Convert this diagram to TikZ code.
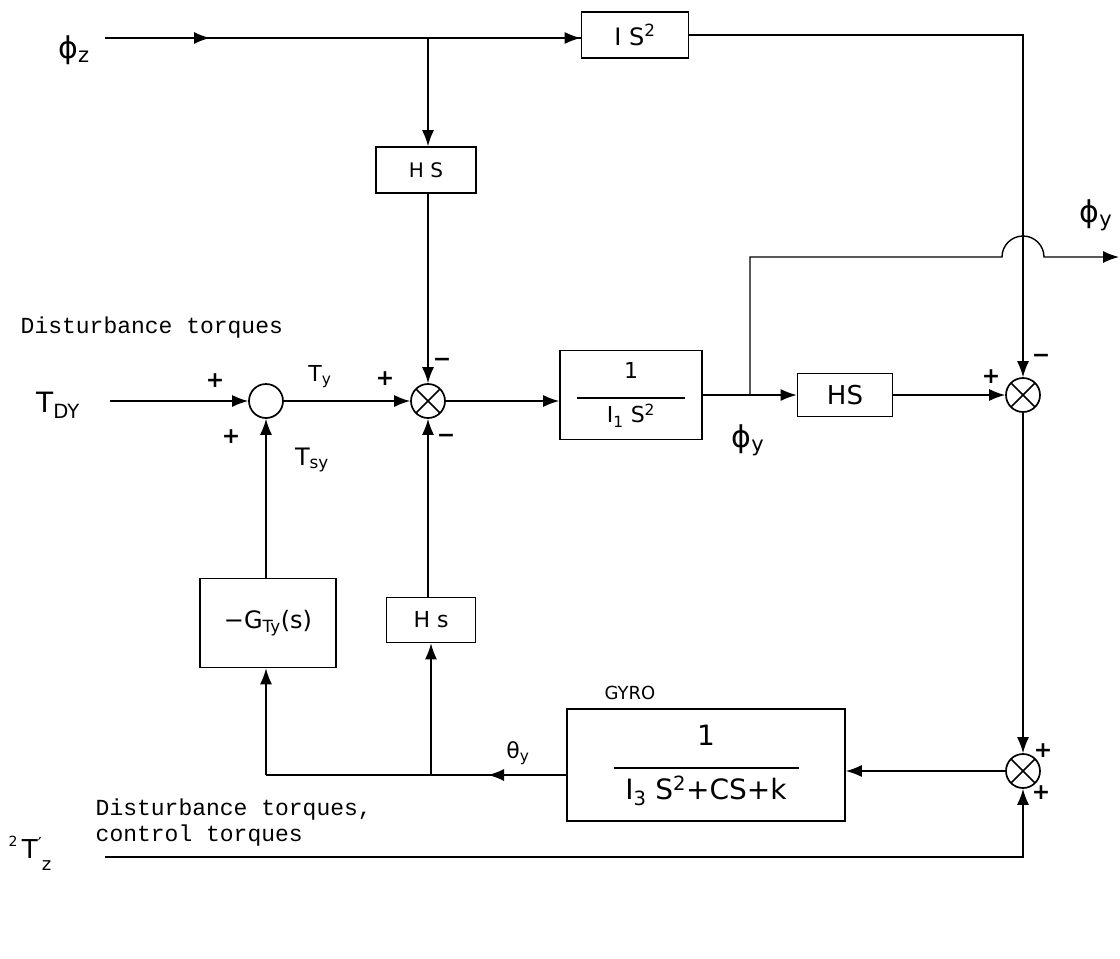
\documentclass[tikz,border=0pt]{standalone}
\usepackage{fontspec}
\setmainfont{DejaVu Sans}
\newfontfamily\typew{Liberation Mono}
\usetikzlibrary{arrows.meta}
\begin{document}
\begin{tikzpicture}[x=1pt,y=-1pt,
  line width=1.4pt,
  >={Latex[length=16pt,width=12pt]},
  blk/.style={draw, line width=1.7pt, inner sep=0pt, align=center, font=\fontsize{22}{26}\selectfont},
  sumc/.style={draw, circle, line width=1.7pt, minimum size=34pt, inner sep=0pt},
  xsum/.style={sumc, path picture={
     \draw[line width=1.5pt] ([shift={(45:17)}]path picture bounding box.center) -- ([shift={(225:17)}]path picture bounding box.center);
     \draw[line width=1.5pt] ([shift={(135:17)}]path picture bounding box.center) -- ([shift={(315:17)}]path picture bounding box.center);}},
  sgn/.style={font=\fontsize{22}{24}\selectfont\bfseries, inner sep=0pt},
  lab/.style={font=\fontsize{26}{30}\selectfont, inner sep=0pt},
  typed/.style={font=\typew\fontsize{23}{26}\selectfont, anchor=west, align=left, inner sep=0pt}
]
\useasboundingbox (0,0) rectangle (1120,959);

% blocks
\node[blk, minimum width=107pt, minimum height=46pt, font=\fontsize{24}{28}\selectfont] (IS) at (635,35) {I S\textsuperscript{2}};
\node[blk, minimum width=100pt, minimum height=46pt, font=\fontsize{20}{24}\selectfont] (HSa) at (426,170) {H S};
\node[sumc] (C0) at (266,401) {};
\node[xsum] (X1) at (428,401) {};
\node[blk, minimum width=142pt, minimum height=89pt] (B1) at (631,395)
  {1\\[-6pt]\rule{108pt}{1.6pt}\\[-2pt]I\textsubscript{1} S\textsuperscript{2}};
\node[blk, minimum width=95pt, minimum height=43pt, font=\fontsize{26}{30}\selectfont] (HSb) at (845,395) {HS};
\node[xsum] (X2) at (1023,395) {};
\node[xsum] (X3) at (1023,771) {};
\node[blk, minimum width=278pt, minimum height=112pt, font=\fontsize{28}{32}\selectfont] (GY) at (706,765)
  {1\\[-8pt]\rule{185pt}{1.6pt}\\[-2pt]I\textsubscript{3} S\textsuperscript{2}+CS+k};
\node[blk, minimum width=136pt, minimum height=89pt, font=\fontsize{24}{28}\selectfont] (G) at (268,623) {−G\textsubscript{Ty}(s)};
\node[blk, minimum width=89pt, minimum height=45pt] (HSc) at (431,620) {H s};

% connectors
\coordinate (pzs) at (105,38);
\coordinate (pzm) at (210,38);
\coordinate (br1) at (428,38);
\draw (pzs) -- (IS.west |- pzs);
\draw[->] (pzs) -- (pzm);
\draw[->] (pzm) -- (IS.west |- pzm);
\draw[->] (br1) -- (br1 |- HSa.north);
\draw[->] (IS.east) -| (X2.north);
\draw[->] (X1 |- HSa.south) -- (X1.north);

\coordinate (tdy) at (110,401);
\draw[->] (tdy) -- (C0.west);
\draw[->] (C0.east) -- (X1.west);
\draw[->] (X1.east) -- (X1.east -| B1.west);

\coordinate (br2) at (750,395);
\coordinate (hop) at (1002,257);
\coordinate (yout) at (1119,257);
\draw[->] (B1.east) -- (HSb.west);
\draw[->] (br2) |- (hop) arc (180:360:21) -- (yout);
\draw[->] (HSb.east) -- (X2.west);
\draw[->] (X2.south) -- (X3.north);
\draw[->] (X3.west) -- (X3.west -| GY.east);

\coordinate (gm) at (488,775);
\coordinate (gc) at (266,775);
\coordinate (br3) at (431,775);
\draw (GY.west |- gm) -- (gc);
\draw[->] (GY.west |- gm) -- (gm);
\draw[->] (gc) -- (gc |- G.south);
\draw[->] (br3) -- (HSc.south);
\draw[->] (gc |- G.north) -- (C0.south);
\draw[->] (HSc.north -| X1) -- (X1.south);

\coordinate (tz) at (105,857);
\draw[->] (tz) -| (X3.south);

% labels
\node[lab, font=\fontsize{30}{34}\selectfont] at (74,50) {ϕ\textsubscript{z}};
\node[typed] at (20,328) {Disturbance torques};
\node[lab, font=\fontsize{28}{32}\selectfont] at (58,405) {T\textsubscript{DY}};
\node[sgn] at (215,381) {+};
\node[lab, font=\fontsize{22}{26}\selectfont] at (320,377) {T\textsubscript{y}};
\node[sgn] at (385,379) {+};
\node[sgn] at (442,362) {−};
\node[sgn] at (446,438) {−};
\node[sgn] at (231,437) {+};
\node[lab, font=\fontsize{24}{28}\selectfont] at (312,460) {T\textsubscript{sy}};
\node[lab, font=\fontsize{30}{34}\selectfont] at (748,440) {ϕ\textsubscript{y}};
\node[lab, font=\fontsize{30}{34}\selectfont] at (1096,215) {ϕ\textsubscript{y}};
\node[sgn] at (991,377) {+};
\node[sgn] at (1041,358) {−};
\node[font=\fontsize{18}{20}\selectfont] at (630,693) {GYRO};
\node[lab, font=\fontsize{22}{26}\selectfont] at (518,753) {θ\textsubscript{y}};
\node[sgn] at (1043,751) {+};
\node[sgn] at (1041,793) {+};
\node[typed] at (95,823) {Disturbance torques,\\control torques};
\node[lab] at (30,853) {\raisebox{12pt}{\fontsize{14}{14}\selectfont 2}\,T\raisebox{8pt}{\fontsize{18}{18}\selectfont ′}\raisebox{-12pt}{\fontsize{18}{18}\selectfont z}};
\end{tikzpicture}
\end{document}
